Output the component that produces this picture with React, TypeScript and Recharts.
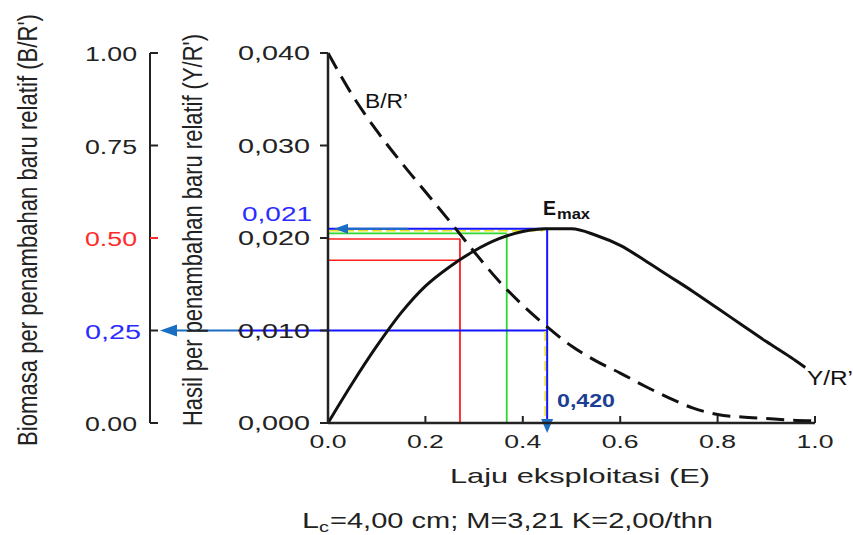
import React from 'react';
import { ComposedChart, Line, XAxis, YAxis, ReferenceLine } from 'recharts';

// Y/R' (hasil per penambahan baru relatif) – kurva padat
const eYield = [0, 0.05, 0.1, 0.15, 0.2, 0.25, 0.3, 0.35, 0.4, 0.45, 0.5, 0.55, 0.6, 0.65, 0.7, 0.75, 0.8, 0.85, 0.9, 0.95, 0.98];
const yieldPerRecruit = [0, 0.0043, 0.0083, 0.0119, 0.0148, 0.0169, 0.0186, 0.0199, 0.0207, 0.021, 0.021, 0.0203, 0.0192, 0.0176, 0.0159, 0.0142, 0.0124, 0.0106, 0.0088, 0.0071, 0.006];

// B/R' (biomasa per penambahan baru relatif) – kurva putus-putus
const eBiomass = [0, 0.05, 0.1, 0.15, 0.2, 0.25, 0.3, 0.35, 0.4, 0.45, 0.5, 0.55, 0.6, 0.65, 0.7, 0.75, 0.8, 0.85, 0.9, 0.95, 1.0];
const biomassPerRecruit = [1.0, 0.886, 0.79, 0.705, 0.625, 0.545, 0.463, 0.385, 0.318, 0.26, 0.208, 0.168, 0.135, 0.1, 0.068, 0.04, 0.023, 0.016, 0.012, 0.008, 0.006];

const xTicks = [0, 0.2, 0.4, 0.6, 0.8, 1.0];
const xTickLabels = ['0.0', '0.2', '0.4', '0.6', '0.8', '1.0'];
const yrTicks = [0, 0.01, 0.02, 0.03, 0.04];
const yrTickLabels = ['0,000', '0,010', '0,020', '0,030', '0,040'];
const brTicks = [0, 0.25, 0.5, 0.75, 1];
const brTickLabels = ['0.00', '0,25', '0.50', '0.75', '1.00'];
const brTickColors = ['#222', '#2b2bff', '#ff2a2a', '#222', '#222'];

// titik-titik acuan
const eMax = 0.45;
const yMax = 0.021;
const bAtEmax = 0.25;
const eGreen = 0.367;
const yGreen = 0.0205;
const eRed = 0.271;
const yRedHigh = 0.0199;
const yRedLow = 0.0176;

const W = 853;
const H = 535;
const OUTER_W = 150; // sumbu B/R'
const INNER_W = 178; // sumbu Y/R'
const Y_AXIS = 0; // sumbu dalam (Y/R')
const B_AXIS = 1; // sumbu luar (B/R')
const FONT = '"Liberation Sans", Arial, sans-serif';
const INK = '#222';
const BLUE = '#1414ff';
const STEEL = '#1b6ec2';

const yieldData = eYield.map((e, i) => ({ e, yr: yieldPerRecruit[i] }));
const biomassData = eBiomass.map((e, i) => ({ e, br: biomassPerRecruit[i] }));

const XTick = (props: any) => {
  const { x, y, payload } = props;
  const i = xTicks.indexOf(payload.value);
  return (
    <g>
      {i > 0 && <line x1={x} y1={y} x2={x} y2={y - 7} stroke={INK} strokeWidth={2} />}
      <text x={x - 18.5} y={y + 25} fontSize={19} fontFamily={FONT} fill={INK} textLength={37} lengthAdjust="spacingAndGlyphs">
        {xTickLabels[i]}
      </text>
    </g>
  );
};

const YrTick = (props: any) => {
  const { x, y, payload } = props;
  const i = yrTicks.indexOf(payload.value);
  return (
    <g>
      <line x1={x - 8} y1={y} x2={x} y2={y} stroke={INK} strokeWidth={2} />
      <text x={x - 90} y={y + 7} fontSize={20} fontFamily={FONT} fill={INK} textLength={72} lengthAdjust="spacingAndGlyphs">
        {yrTickLabels[i]}
      </text>
    </g>
  );
};

const BrTick = (props: any) => {
  const { x, y, payload } = props;
  const i = brTicks.indexOf(payload.value);
  const label = brTickLabels[i];
  return (
    <g>
      <line x1={x} y1={y} x2={x + 8} y2={y} stroke={i === 2 ? '#ff2a2a' : INK} strokeWidth={2} />
      <text x={x - 65} y={y + 8} fontSize={20} fontFamily={FONT} fill={brTickColors[i]} textLength={label.includes(',') ? 56 : 52} lengthAdjust="spacingAndGlyphs">
        {label}
      </text>
    </g>
  );
};

// garis biru Emax dengan panah ke kiri
const TopArrow = (p: any) => (
  <g>
    <line x1={p.x1} y1={p.y1} x2={p.x2} y2={p.y2} stroke={BLUE} strokeWidth={2} />
    <line x1={p.x1 + 2} y1={p.y1 + 2} x2={p.x2 - 4} y2={p.y2 + 2} stroke="#e6e020" strokeWidth={1.5} strokeDasharray="10 4" />
    <line x1={p.x1 + 12} y1={p.y1} x2={p.x1 + 80} y2={p.y2} stroke={STEEL} strokeWidth={2} />
    <polygon points={`${p.x1 + 6},${p.y1} ${p.x1 + 20},${p.y1 - 5} ${p.x1 + 20},${p.y1 + 5}`} fill={STEEL} />
  </g>
);

// garis biru B/R' = 0,25 yang diteruskan ke sumbu kiri
const LeftArrow = (p: any) => {
  const tip = p.x1 - INNER_W + 10;
  return (
    <g>
      <line x1={p.x1} y1={p.y1} x2={p.x2} y2={p.y2} stroke={BLUE} strokeWidth={2} />
      <line x1={p.x1 - 90} y1={p.y1} x2={p.x1} y2={p.y1} stroke={BLUE} strokeWidth={2} />
      <line x1={tip + 10} y1={p.y1} x2={p.x1 - 90} y2={p.y1} stroke={STEEL} strokeWidth={2} />
      <polygon points={`${tip},${p.y1} ${tip + 17},${p.y1 - 6} ${tip + 17},${p.y1 + 6}`} fill={STEEL} />
    </g>
  );
};

// garis biru vertikal turun ke E = 0,420
const DownArrow = (p: any) => (
  <g>
    <line x1={p.x1} y1={p.y1} x2={p.x2} y2={p.y2} stroke={BLUE} strokeWidth={2} />
    <line x1={p.x2 - 2} y1={p.y2 - 92} x2={p.x2 - 2} y2={p.y2} stroke="#e6e020" strokeWidth={1.5} strokeDasharray="10 5" />
    <polygon points={`${p.x2 - 6},${p.y2 - 4} ${p.x2 + 6},${p.y2 - 4} ${p.x2},${p.y2 + 10}`} fill={STEEL} />
  </g>
);

export default function App() {
  return (
    <div style={{ position: 'absolute', left: 0, top: 0, width: W, height: H, background: '#fff', overflow: 'hidden' }}>
      <ComposedChart width={W} height={H} margin={{ top: 53, right: 38, bottom: 72, left: 0 }}>
        <XAxis
          dataKey="e"
          type="number"
          domain={[0, 1]}
          ticks={xTicks}
          height={40}
          tickSize={0}
          tickMargin={0}
          tick={<XTick />}
          axisLine={{ stroke: INK, strokeWidth: 2.5 }}
          allowDataOverflow
        />
        <YAxis
          yAxisId={Y_AXIS}
          type="number"
          domain={[0, 0.04]}
          ticks={yrTicks}
          width={INNER_W}
          tickSize={0}
          tickMargin={0}
          tick={<YrTick />}
          axisLine={{ stroke: INK, strokeWidth: 2.5 }}
        />
        <YAxis
          yAxisId={B_AXIS}
          type="number"
          domain={[0, 1]}
          ticks={brTicks}
          width={OUTER_W}
          tickSize={0}
          tickMargin={0}
          tick={<BrTick />}
          axisLine={{ stroke: INK, strokeWidth: 2 }}
        />

        <ReferenceLine yAxisId={Y_AXIS} segment={[{ x: 0, y: yRedHigh }, { x: eRed, y: yRedHigh }]} stroke="#ff2020" strokeWidth={1.5} />
        <ReferenceLine yAxisId={Y_AXIS} segment={[{ x: 0, y: yRedLow }, { x: eRed, y: yRedLow }]} stroke="#ff2020" strokeWidth={1.5} />
        <ReferenceLine yAxisId={Y_AXIS} segment={[{ x: eRed, y: yRedHigh }, { x: eRed, y: 0 }]} stroke="#ff2020" strokeWidth={1.8} />
        <ReferenceLine yAxisId={Y_AXIS} segment={[{ x: 0, y: yGreen }, { x: eGreen, y: yGreen }]} stroke="#2ed82e" strokeWidth={1.8} />
        <ReferenceLine yAxisId={Y_AXIS} segment={[{ x: eGreen, y: yGreen }, { x: eGreen, y: 0 }]} stroke="#2ed82e" strokeWidth={1.8} />
        <ReferenceLine yAxisId={B_AXIS} segment={[{ x: 0, y: bAtEmax }, { x: eMax, y: bAtEmax }]} shape={LeftArrow} />
        <ReferenceLine yAxisId={Y_AXIS} segment={[{ x: 0, y: yMax }, { x: eMax, y: yMax }]} shape={TopArrow} />
        <ReferenceLine yAxisId={Y_AXIS} segment={[{ x: eMax, y: yMax }, { x: eMax, y: 0 }]} shape={DownArrow} />

        <Line
          yAxisId={B_AXIS}
          data={biomassData}
          dataKey="br"
          type="monotone"
          stroke="#111"
          strokeWidth={3}
          strokeDasharray="18 9"
          dot={false}
          isAnimationActive={false}
        />
        <Line
          yAxisId={Y_AXIS}
          data={yieldData}
          dataKey="yr"
          type="monotone"
          stroke="#111"
          strokeWidth={3}
          dot={false}
          isAnimationActive={false}
        />
      </ComposedChart>

      <svg width={W} height={H} style={{ position: 'absolute', left: 0, top: 0, pointerEvents: 'none' }} fontFamily={FONT}>
        <text transform="translate(37,230) rotate(-90)" x={-216} y={0} fontSize={27} fill={INK} textLength={432} lengthAdjust="spacingAndGlyphs">
          Biomasa  per penambahan baru relatif (B/R')
        </text>
        <text transform="translate(202,230) rotate(-90)" x={-196} y={0} fontSize={27} fill={INK} textLength={392} lengthAdjust="spacingAndGlyphs">
          Hasil per penambahan baru relatif (Y/R')
        </text>
        <text x={365} y={108} fontSize={20} fill="#111" textLength={43} lengthAdjust="spacingAndGlyphs">B/R’</text>
        <text x={807} y={385} fontSize={20} fill="#111" textLength={46} lengthAdjust="spacingAndGlyphs">Y/R’</text>
        <text x={543} y={215} fontSize={20} fontWeight="bold" fill="#111" textLength={13} lengthAdjust="spacingAndGlyphs">E</text>
        <text x={557} y={219} fontSize={14} fontWeight="bold" fill="#111" textLength={33} lengthAdjust="spacingAndGlyphs">max</text>
        <text x={557} y={407} fontSize={19} fontWeight="bold" fill="#1c3f94" textLength={58} lengthAdjust="spacingAndGlyphs">0,420</text>
        <text x={242} y={221} fontSize={20} fill="#2b2bff" textLength={70} lengthAdjust="spacingAndGlyphs">0,021</text>
        <text x={450} y={483} fontSize={21} fill={INK} textLength={260} lengthAdjust="spacingAndGlyphs">Laju eksploitasi (E)</text>
        <text x={302} y={528} fontSize={22} fill={INK} textLength={17} lengthAdjust="spacingAndGlyphs">L</text>
        <text x={319} y={532} fontSize={15} fill={INK} textLength={10} lengthAdjust="spacingAndGlyphs">c</text>
        <text x={330} y={528} fontSize={22} fill={INK} textLength={383} lengthAdjust="spacingAndGlyphs">=4,00 cm; M=3,21 K=2,00/thn</text>
      </svg>
    </div>
  );
}
